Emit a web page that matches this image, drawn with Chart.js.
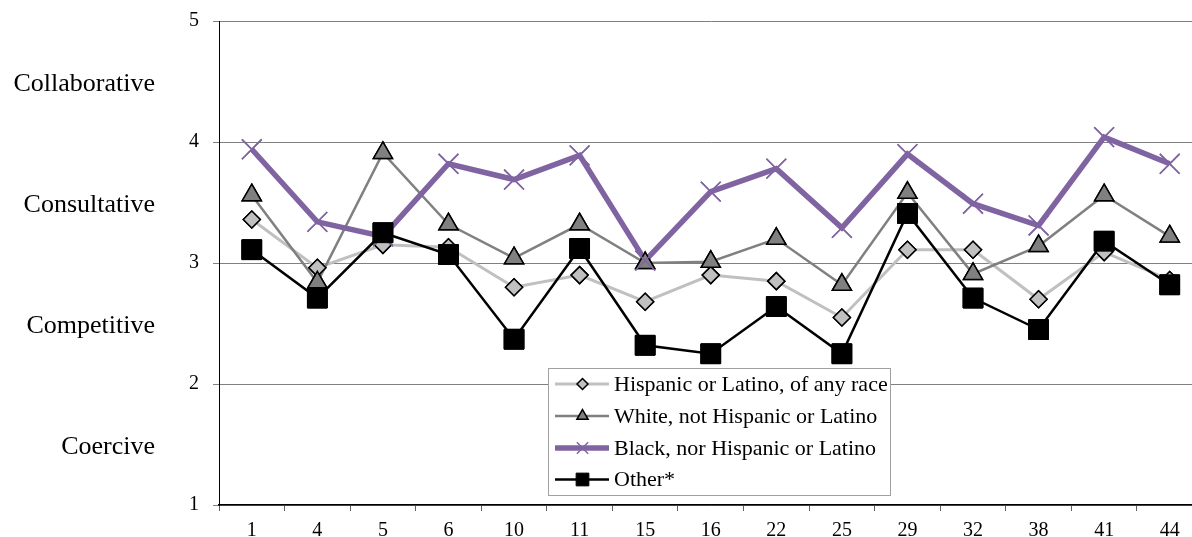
<!DOCTYPE html>
<html><head><meta charset="utf-8">
<script src="https://cdn.jsdelivr.net/npm/chart.js@4/dist/chart.umd.min.js"></script>
<style>
html,body{margin:0;padding:0;background:#fff;overflow:hidden;width:1192px;height:537px}
#wrap{position:absolute;left:0;top:0;width:1218px;height:537px}
</style></head><body>
<div id="wrap"><canvas id="c" width="1218" height="537"></canvas></div>
<script>
const categories = ['1','4','5','6','10','11','15','16','22','25','29','32','38','41','44'];
const hispanic = [3.36,2.96,3.15,3.13,2.80,2.90,2.68,2.90,2.85,2.55,3.11,3.11,2.70,3.09,2.86];
const white    = [3.56,2.84,3.91,3.32,3.04,3.32,3.00,3.01,3.20,2.82,3.58,2.91,3.14,3.56,3.22];
const black    = [3.94,3.34,3.22,3.82,3.69,3.89,3.02,3.59,3.78,3.29,3.90,3.49,3.31,4.04,3.82];
const other    = [3.11,2.71,3.25,3.07,2.37,3.12,2.32,2.25,2.64,2.25,3.41,2.71,2.45,3.18,2.82];
const seriesNames = ['Hispanic or Latino, of any race','White, not Hispanic or Latino','Black, nor Hispanic or Latino','Other*'];
const yTicks = [1,2,3,4,5];
const styleTicks = [1.5,2.5,3.5,4.5];
const styleLabels = ['Coercive','Competitive','Consultative','Collaborative'];

const SERIF = "'Liberation Serif','Times New Roman',serif";

const styles = [
  {line:'#c0c0c0', lw:3, fill:'#c0c0c0', border:'#000', ps:'rectRot', r:8.5, bw:1.5, lr:5.5, order:3},
  {line:'#808080', lw:2.5, fill:'#808080', border:'#000', ps:'triangle', r:11, bw:1.5, lr:6.5, order:2},
  {line:'#8064a2', lw:5.5, fill:'#8064a2', border:'#8064a2', ps:'crossRot', r:14, bw:1.5, lr:8, order:1},
  {line:'#000000', lw:2.5, fill:'#000000', border:'#000', ps:'rect', r:14, bw:1, lr:9, order:0}
];
const seriesData = [hispanic, white, black, other];

const datasets = seriesData.map((d,i)=>({
  label: seriesNames[i],
  data: d,
  borderColor: styles[i].line,
  borderWidth: styles[i].lw,
  backgroundColor: styles[i].fill,
  pointStyle: styles[i].ps,
  pointRadius: styles[i].r,
  pointBackgroundColor: styles[i].fill,
  pointBorderColor: styles[i].border,
  pointBorderWidth: styles[i].bw,
  tension: 0,
  order: styles[i].order,
  clip: false
}));

const pointsOnTop = {
  id:'pointsOnTop',
  afterDatasetsDraw(chart){
    const ctx = chart.ctx;
    for (let i=0;i<chart.data.datasets.length;i++){
      const meta = chart.getDatasetMeta(i);
      meta.data.forEach(p=>p.draw(ctx));
    }
  }
};

const legendBox = {
  id:'legendBox',
  afterDraw(chart){
    const ctx = chart.ctx;
    const bx=548.5, by=368.5, bw=342, bh=127;
    ctx.save();
    ctx.fillStyle='#fff';
    ctx.fillRect(bx,by,bw,bh);
    ctx.strokeStyle='#a0a0a0';
    ctx.lineWidth=1;
    ctx.strokeRect(bx,by,bw,bh);
    const rows=[384,416,448,479.5];
    seriesNames.forEach((name,i)=>{
      const s=styles[i], y=rows[i];
      ctx.strokeStyle=s.line; ctx.lineWidth=s.lw; ctx.lineCap='butt';
      ctx.beginPath(); ctx.moveTo(555,y); ctx.lineTo(609,y); ctx.stroke();
      ctx.fillStyle=s.fill; ctx.strokeStyle=s.border; ctx.lineWidth=s.bw;
      Chart.helpers.drawPoint(ctx,{pointStyle:s.ps,radius:s.lr,borderWidth:s.bw,rotation:0},582.5,y);
      ctx.fillStyle='#000';
      ctx.font='22px '+SERIF;
      ctx.textAlign='left'; ctx.textBaseline='middle';
      ctx.fillText(name,614,y+1);
    });
    ctx.restore();
  }
};

new Chart(document.getElementById('c'),{
  type:'line',
  data:{labels:categories, datasets},
  plugins:[pointsOnTop, legendBox],
  options:{
    responsive:false,
    animation:false,
    events:[],
    layout:{padding:{top:0,left:0,right:0,bottom:0}},
    plugins:{legend:{display:false},tooltip:{enabled:false}},
    scales:{
      x:{
        type:'category',
        offset:true,
        grid:{offset:true, drawOnChartArea:false, drawTicks:true, tickLength:6, color:'#606060', lineWidth:1},
        border:{color:'#000', width:1.5},
        ticks:{font:{family:SERIF,size:20}, color:'#000', padding:8, maxRotation:0, autoSkip:false},
        afterFit(s){ s.height=32; }
      },
      y:{
        position:'left',
        weight:0,
        min:1, max:5,
        afterBuildTicks(s){ s.ticks = yTicks.map(v=>({value:v})); },
        grid:{color:'#808080', lineWidth:1, drawTicks:true, tickLength:6},
        border:{color:'#000', width:1},
        ticks:{font:{family:SERIF,size:20}, color:'#000', padding:9, autoSkip:false,
          callback(v){ return v + '\u00a0'; }},
        afterFit(s){ s.width=64; }
      },
      y2:{
        position:'left',
        weight:1,
        min:1, max:5,
        afterBuildTicks(s){ s.ticks = styleTicks.map(v=>({value:v})); },
        grid:{display:false, drawTicks:false},
        border:{display:false},
        ticks:{font:{family:SERIF,size:26}, color:'#000', padding:0, labelOffset:3, autoSkip:false,
          callback(v){ const k=styleTicks.indexOf(v); return k>=0?styleLabels[k]:''; }},
        afterFit(s){ s.width=155; }
      }
    }
  }
});
</script>
</body></html>
